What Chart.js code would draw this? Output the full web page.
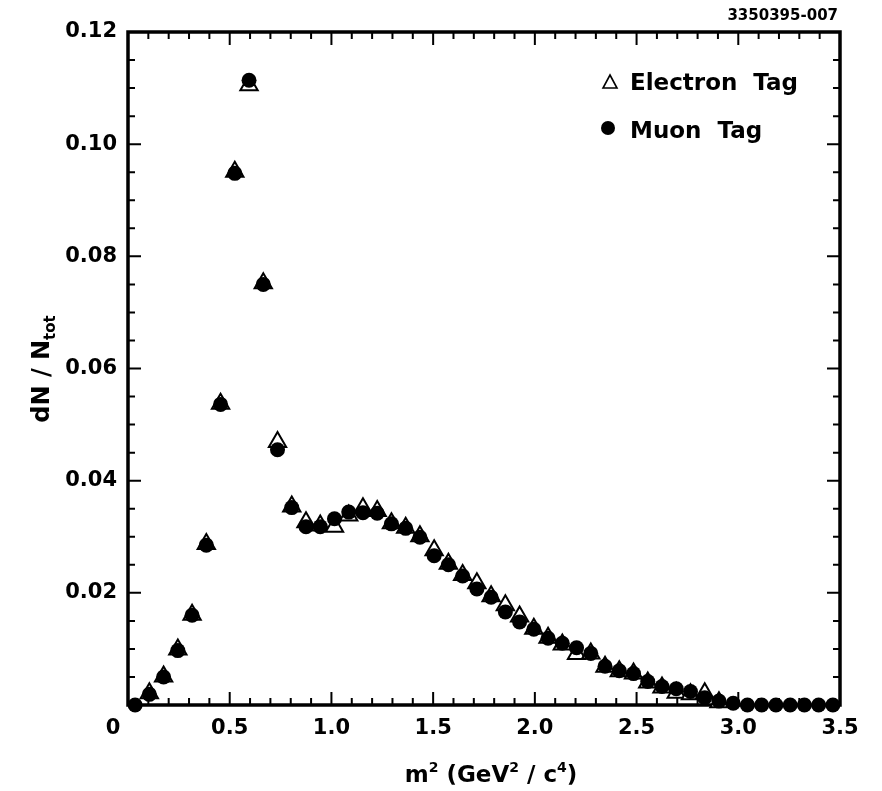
<!DOCTYPE html>
<html>
<head>
<meta charset="utf-8">
<script src="https://cdn.jsdelivr.net/npm/chart.js@4.4.0/dist/chart.umd.min.js"></script>
<style>
  html, body { margin: 0; padding: 0; background: #fff; }
  #wrap { width: 882px; height: 791px; }
</style>
</head>
<body>
<div id="wrap"><canvas id="massChart" width="882" height="791"></canvas></div>
<script>
// bin centres of m^2 (GeV^2/c^4)
const binCenters = [
  0.035, 0.105, 0.175, 0.245, 0.315, 0.385, 0.455, 0.525, 0.595, 0.665,
  0.735, 0.805, 0.875, 0.945, 1.015, 1.085, 1.155, 1.225, 1.295, 1.365,
  1.435, 1.505, 1.575, 1.645, 1.715, 1.785, 1.855, 1.925, 1.995, 2.065,
  2.135, 2.205, 2.275, 2.345, 2.415, 2.485, 2.555, 2.625, 2.695, 2.765,
  2.835, 2.905, 2.975, 3.045, 3.115, 3.185, 3.255, 3.325, 3.395, 3.465
];

// dN / Ntot, electron tagged sample (open triangles)
const electronTag = [
  null, 0.0021, 0.0051, 0.0099, 0.0161, 0.0287, 0.0537, 0.0951, 0.1105, 0.0752,
  0.0469, 0.0354, 0.0326, 0.0320, 0.0318, 0.0338, 0.0351, 0.0346, 0.0324, 0.0316,
  0.0301, 0.0276, 0.0252, 0.0232, 0.0217, 0.0194, 0.0178, 0.0158, 0.0136, 0.0120,
  0.0108, 0.0091, 0.0092, 0.0068, 0.0060, 0.0056, 0.0040, 0.0031, 0.0022, 0.0019,
  0.0021, 0.0005, null, null, null, null, null, null, null, null
];

// dN / Ntot, muon tagged sample (filled circles)
const muonTag = [
  0.0, 0.0019, 0.0050, 0.0097, 0.0160, 0.0285, 0.0536, 0.0948, 0.1114, 0.0750,
  0.0455, 0.0352, 0.0318, 0.0318, 0.0332, 0.0344, 0.0343, 0.0342, 0.0323, 0.0315,
  0.0299, 0.0266, 0.0250, 0.0230, 0.0207, 0.0192, 0.0166, 0.0148, 0.0135, 0.0119,
  0.0110, 0.0102, 0.0092, 0.0069, 0.0061, 0.0056, 0.0042, 0.0033, 0.0029, 0.0024,
  0.0013, 0.0007, 0.0003, 0.0, 0.0, 0.0, 0.0, 0.0, 0.0, 0.0
];

const xTicks = [0, 0.5, 1.0, 1.5, 2.0, 2.5, 3.0, 3.5];
const xTickLabels = ['0', '0.5', '1.0', '1.5', '2.0', '2.5', '3.0', '3.5'];
const yTicks = [0, 0.02, 0.04, 0.06, 0.08, 0.10, 0.12];
const yTickLabels = ['', '0.02', '0.04', '0.06', '0.08', '0.10', '0.12'];

const FONT = '"DejaVu Sans", Verdana, sans-serif';

function toPoints(values) {
  return binCenters.map((x, i) => ({ x: x, y: values[i] }));
}

function labelFor(ticks, labels, value) {
  const i = ticks.findIndex(t => Math.abs(t - value) < 1e-9);
  return i >= 0 ? labels[i] : '';
}

// draws text pieces (normal / super / subscript) centred on cx
function drawPieces(ctx, parts, cx, cy) {
  let w = 0;
  parts.forEach(p => { ctx.font = p[1]; w += ctx.measureText(p[0]).width; });
  let px = cx - w / 2;
  parts.forEach(p => {
    ctx.font = p[1];
    ctx.fillText(p[0], px, cy + p[2]);
    px += ctx.measureText(p[0]).width;
  });
}

// frame with inward ticks on all four sides
const framePlugin = {
  id: 'frame',
  beforeDatasetsDraw(chart) {
    const { ctx, chartArea: a, scales: { x, y } } = chart;
    ctx.save();
    ctx.strokeStyle = '#000';
    ctx.lineWidth = 2;
    ctx.beginPath();
    for (let i = 0; i <= 35; i++) {
      const px = x.getPixelForValue(i / 10);
      const len = i % 5 === 0 ? 13 : 7;
      ctx.moveTo(px, a.bottom); ctx.lineTo(px, a.bottom - len);
      ctx.moveTo(px, a.top); ctx.lineTo(px, a.top + len);
    }
    for (let i = 0; i <= 24; i++) {
      const py = y.getPixelForValue(i * 0.005);
      const len = i % 4 === 0 ? 13 : 7;
      ctx.moveTo(a.left, py); ctx.lineTo(a.left + len, py);
      ctx.moveTo(a.right, py); ctx.lineTo(a.right - len, py);
    }
    ctx.stroke();
    ctx.lineWidth = 3.5;
    ctx.strokeRect(a.left, a.top, a.width, a.height);
    ctx.restore();
  }
};

// axis titles, zero label, legend and figure number
const textPlugin = {
  id: 'texts',
  afterDraw(chart) {
    const { ctx, scales: { x } } = chart;
    ctx.save();
    ctx.fillStyle = '#000';

    // x axis zero label sits left of the corner
    ctx.font = 'bold 21px ' + FONT;
    ctx.textAlign = 'center';
    ctx.textBaseline = 'middle';
    ctx.fillText('0', x.getPixelForValue(0) - 15, 729);

    ctx.textAlign = 'left';
    ctx.textBaseline = 'alphabetic';

    // x title: m^2 (GeV^2 / c^4)
    const xt = 'bold 23px ' + FONT, xs = 'bold 14px ' + FONT;
    drawPieces(ctx, [['m', xt, 0], ['2', xs, -10], [' (GeV', xt, 0], ['2', xs, -10],
                     [' / c', xt, 0], ['4', xs, -10], [')', xt, 0]], 491, 782);

    // y title: dN / N_tot
    ctx.save();
    ctx.translate(49, 369);
    ctx.rotate(-Math.PI / 2);
    drawPieces(ctx, [['dN / N', 'bold 24px ' + FONT, 0], ['tot', 'bold 15px ' + FONT, 6]], 0, 0);
    ctx.restore();

    // figure number
    ctx.font = 'bold 15px ' + FONT;
    ctx.textAlign = 'right';
    ctx.fillText('3350395-007', 838, 20);

    // legend
    ctx.font = 'bold 23px ' + FONT;
    ctx.textAlign = 'left';
    ctx.fillText('Electron  Tag', 630, 90);
    ctx.fillText('Muon  Tag', 630, 138);
    ctx.lineWidth = 1.6;
    ctx.beginPath();
    ctx.moveTo(610, 75); ctx.lineTo(617, 88); ctx.lineTo(603, 88); ctx.closePath();
    ctx.stroke();
    ctx.beginPath();
    ctx.arc(608, 128, 7, 0, Math.PI * 2);
    ctx.fill();
    ctx.restore();
  }
};

new Chart(document.getElementById('massChart'), {
  type: 'scatter',
  data: {
    datasets: [
      {
        label: 'Muon Tag',
        data: toPoints(muonTag),
        pointStyle: 'circle',
        pointRadius: 7.5,
        pointHoverRadius: 7.5,
        backgroundColor: '#000',
        borderColor: '#000',
        borderWidth: 0,
        clip: false
      },
      {
        label: 'Electron Tag',
        data: toPoints(electronTag),
        pointStyle: 'triangle',
        pointRadius: 10,
        pointHoverRadius: 10,
        backgroundColor: '#fff',
        borderColor: '#000',
        borderWidth: 2,
        clip: false
      }
    ]
  },
  options: {
    responsive: false,
    animation: false,
    devicePixelRatio: 1,
    layout: { padding: { top: 32, right: 42, left: 0, bottom: 0 } },
    plugins: {
      legend: { display: false },
      tooltip: { enabled: false }
    },
    scales: {
      x: {
        type: 'linear',
        min: 0,
        max: 3.5,
        afterFit(scale) { scale.height = 86; scale.paddingLeft = 0; scale.paddingRight = 0; },
        afterBuildTicks(scale) { scale.ticks = xTicks.map(v => ({ value: v })); },
        grid: { display: false, drawTicks: false },
        border: { display: false },
        ticks: {
          padding: 11,
          maxRotation: 0,
          color: '#000',
          font: { family: FONT, size: 21, weight: 'bold' },
          callback: v => (v === 0 ? '' : labelFor(xTicks, xTickLabels, v))
        }
      },
      y: {
        type: 'linear',
        min: 0,
        max: 0.12,
        afterFit(scale) { scale.width = 128; scale.paddingTop = 0; scale.paddingBottom = 0; },
        afterBuildTicks(scale) { scale.ticks = yTicks.map(v => ({ value: v })); },
        grid: { display: false, drawTicks: false },
        border: { display: false },
        ticks: {
          padding: 11,
          color: '#000',
          font: { family: FONT, size: 21, weight: 'bold' },
          callback: v => labelFor(yTicks, yTickLabels, v)
        }
      }
    }
  },
  plugins: [framePlugin, textPlugin]
});
</script>
</body>
</html>
